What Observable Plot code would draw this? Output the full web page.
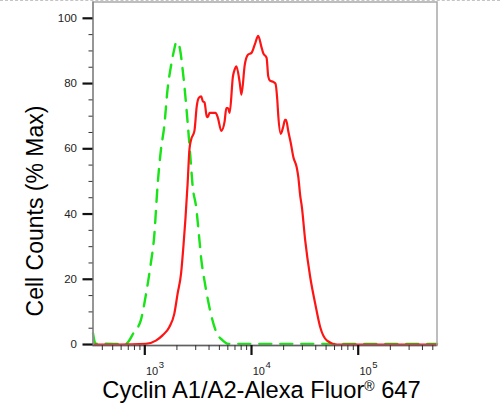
<!DOCTYPE html>
<html><head><meta charset="utf-8">
<script src="https://cdn.jsdelivr.net/npm/d3@7"></script>
<script src="https://cdn.jsdelivr.net/npm/@observablehq/plot@0.6"></script>
<style>
body{margin:0;background:#fff;font-family:"Liberation Sans",Arial,sans-serif;}
#wrap{position:relative;width:500px;height:410px;overflow:hidden;}
#topline{position:absolute;left:0;top:0;width:500px;height:0;border-top:1px dashed #c4c4c4;}
</style></head>
<body><div id="wrap"></div>
<script>
// Isotype control (green dashed)
const controlX = [327, 345, 513, 662, 792, 917, 1022, 1139, 1224, 1315, 1416, 1521, 1634, 1758, 1889, 1960, 2031, 2138, 2263, 2400, 2521, 2673, 2811, 3027, 3251, 3375, 3627, 3899, 4195, 4677, 5400, 6012, 10000, 547500];
const controlY = [3.5, 0.3, 0.2, 0.2, 3.8, 7.4, 15.1, 24.9, 33.0, 48.4, 59.7, 66.8, 78.2, 85.3, 90.5, 92.5, 92.7, 90.5, 84.3, 76.1, 68.0, 57.6, 48.4, 42.2, 32.0, 26.4, 19.5, 13.8, 8.9, 3.8, 1.2, 0.2, 0.2, 0.2];
// Cyclin A1/A2 stained sample (red)
const sampleX = [330, 573, 1022, 1270, 1466, 1694, 1889, 2030, 2188, 2298, 2400, 2521, 2618, 2716, 2918, 3067, 3204, 3375, 3494, 3627, 3810, 3899, 4044, 4195, 4508, 4606, 4842, 5210, 5599, 5807, 6012, 6239, 6700, 6953, 7215, 7754, 8047, 8650, 9297, 10000, 10745, 11550, 12414, 12850, 13850, 14351, 14894, 16005, 16767, 17433, 17817, 18775, 19873, 20610, 21070, 22140, 23334, 24660, 26577, 27520, 28560, 29634, 31835, 35481, 39550, 44070, 51000, 63390, 547500];
const sampleY = [0, 0, 0.2, 1.2, 2.8, 5.3, 9.4, 15.6, 21.8, 29.9, 38.2, 49.5, 59.7, 62.8, 65.5, 73.0, 75.6, 76.1, 74.6, 74.2, 69.9, 69.7, 71.0, 71.0, 71.0, 71.0, 69.5, 65.5, 68.4, 72.5, 72.5, 71.0, 82.2, 84.3, 85.3, 80.3, 76.6, 85.8, 88.9, 89.4, 92.0, 94.6, 91.1, 89.4, 87.9, 82.2, 80.9, 80.5, 80.0, 75.1, 70.2, 64.6, 66.9, 68.9, 68.9, 65.3, 61.8, 57.5, 54.2, 51.1, 45.8, 42.2, 32.0, 20.7, 12.5, 5.3, 1.2, 0, 0];

const yTicks = [0, 20, 40, 60, 80, 100];
const yMinorTicks = [5, 10, 15, 25, 30, 35, 45, 50, 55, 65, 70, 75, 85, 90, 95];
const xMajorTicks = [1e3, 1e4, 1e5];
const xMajorExponents = ["3", "4", "5"];
const xMinorTicks = [400, 500, 600, 700, 800, 900, 2000, 3000, 4000, 5000, 6000, 7000, 8000, 9000, 20000, 30000, 40000, 50000, 60000, 70000, 80000, 90000, 200000, 300000, 400000, 500000];
const xTitle = "Cyclin A1/A2-Alexa Fluor";
const xTitleMark = "®";
const xTitleEnd = " 647";
const yTitle = "Cell Counts (% Max)";

const control = controlX.map((x, i) => ({x, y: controlY[i]}));
const sample = sampleX.map((x, i) => ({x, y: sampleY[i]}));
const majors = xMajorTicks.map((v, i) => ({v, e: xMajorExponents[i]}));

const font = '"Liberation Sans", Arial, sans-serif';
const blank = () => "";

const chart = Plot.plot({
  width: 500,
  height: 410,
  marginLeft: 92.5,
  marginRight: 63.5,
  marginTop: 1.5,
  marginBottom: 65,
  style: {fontFamily: font, background: "#fff"},
  x: {type: "log", domain: [327, 547500], axis: null},
  y: {domain: [-0.3, 105], axis: null},
  marks: [
    Plot.line(control, {x: "x", y: "y", stroke: "#18e418", strokeWidth: 2.4, strokeDasharray: "12,9", curve: "monotone-x"}),
    Plot.line(sample, {x: "x", y: "y", stroke: "#ff1414", strokeWidth: 2.2, curve: "monotone-x"}),
    Plot.frame({stroke: "#a8a8a8", strokeWidth: 1.5}),
    Plot.ruleX([327], {stroke: "#8a8a8a", strokeWidth: 1.5}),
    Plot.ruleY([-0.3], {stroke: "#606060", strokeWidth: 1.5}),
    Plot.axisY({ticks: yMinorTicks, tickSize: 4, tickFormat: blank, stroke: "#333", strokeWidth: 1, label: null}),
    Plot.axisY({ticks: yTicks, tickSize: 10, tickPadding: 6, fontSize: 11.5, fill: "#222", stroke: "#111", strokeWidth: 2.2, label: null}),
    Plot.axisX({ticks: xMinorTicks, tickSize: 5, tickFormat: blank, stroke: "#333", strokeWidth: 1, label: null}),
    Plot.axisX({ticks: xMajorTicks, tickSize: 10, tickFormat: blank, stroke: "#111", strokeWidth: 2.2, label: null}),
    Plot.text(majors, {x: "v", text: () => "10", frameAnchor: "bottom", lineAnchor: "bottom", textAnchor: "start", dx: 1.2, dy: 29.5, fontSize: 11, fill: "#222"}),
    Plot.text(majors, {x: "v", text: "e", frameAnchor: "bottom", lineAnchor: "bottom", textAnchor: "start", dx: 14, dy: 22.5, fontSize: 9.5, fill: "#222"})
  ]
});

const svg = d3.select(chart);
const xt = svg.append("text")
  .attr("x", 261.5).attr("y", 398)
  .attr("text-anchor", "middle")
  .attr("font-family", font).attr("font-size", 23.7).attr("fill", "#000");
xt.append("tspan").text(xTitle);
xt.append("tspan").attr("font-size", 14).attr("dy", -7).text(xTitleMark);
xt.append("tspan").attr("dy", 7).text(xTitleEnd);

svg.append("text")
  .attr("transform", "translate(42.5,211) rotate(-90)")
  .attr("text-anchor", "middle")
  .attr("font-family", font).attr("font-size", 23).attr("fill", "#000")
  .text(yTitle);

const wrap = document.getElementById("wrap");
wrap.appendChild(chart);
const tl = document.createElement("div");
tl.id = "topline";
wrap.appendChild(tl);
</script>
</body></html>
